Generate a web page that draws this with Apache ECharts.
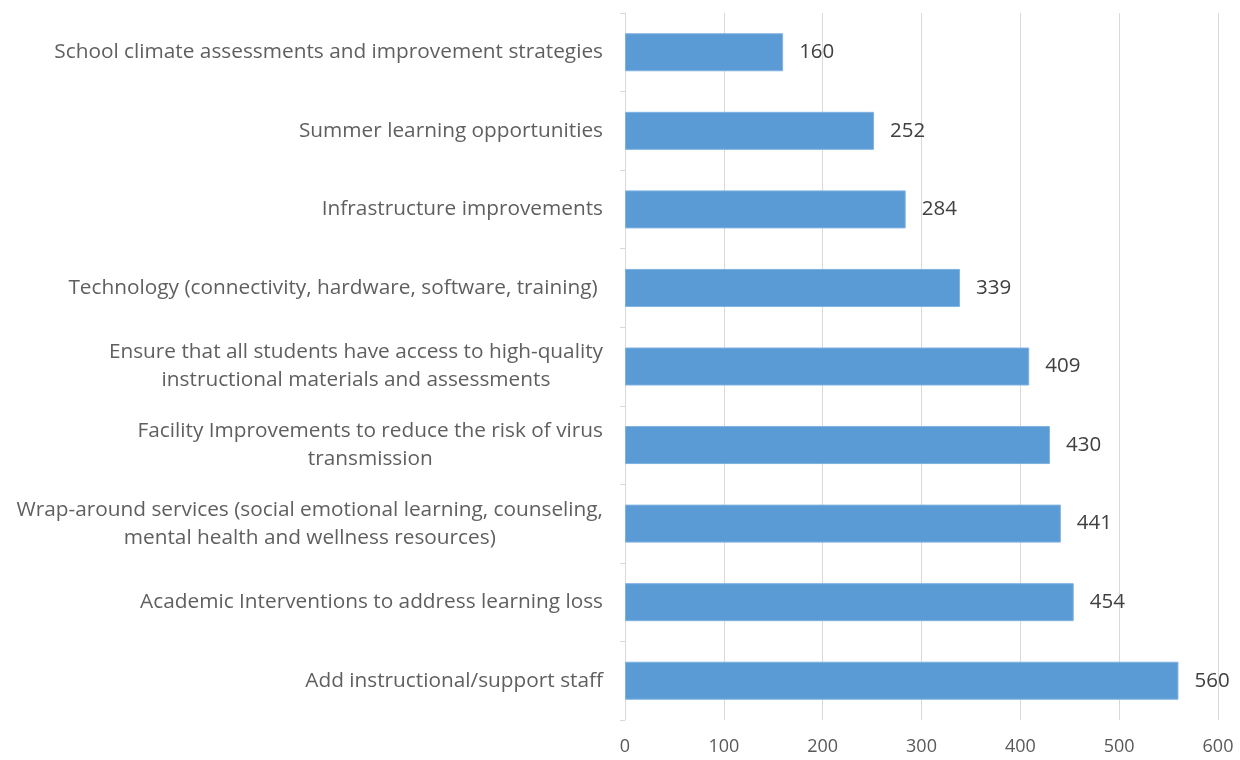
<!DOCTYPE html>
<html>
<head>
<meta charset="utf-8">
<script src="https://cdn.jsdelivr.net/npm/echarts@6/dist/echarts.min.js"></script>
<style>
  html, body { margin: 0; padding: 0; background: #fff; }
  #chart { width: 1240px; height: 760px; }
</style>
</head>
<body>
<div id="chart"></div>
<script>
// categories from top to bottom, as in the picture
var categories = [
    'School climate assessments and improvement strategies',
    'Summer learning opportunities',
    'Infrastructure improvements',
    'Technology (connectivity, hardware, software, training) ',
    'Ensure that all students have access to high-quality\ninstructional materials and assessments',
    'Facility Improvements to reduce the risk of virus\ntransmission',
    'Wrap-around services (social emotional learning, counseling,\nmental health and wellness resources)',
    'Academic Interventions to address learning loss',
    'Add instructional/support staff'
];
var counts = [160, 252, 284, 339, 409, 430, 441, 454, 560];
var xTicks = [0, 100, 200, 300, 400, 500, 600];

var fontName = '"Open Sans", "Noto Sans", sans-serif';

var chart = echarts.init(document.getElementById('chart'));
chart.setOption({
    backgroundColor: '#ffffff',
    animation: false,
    grid: {
        left: 625,
        right: 22,
        top: 13,
        bottom: 40,
        containLabel: false
    },
    xAxis: {
        type: 'value',
        min: xTicks[0],
        max: xTicks[xTicks.length - 1],
        interval: 100,
        axisLine: { show: false },
        axisTick: { show: false },
        axisLabel: {
            color: '#595959',
            fontSize: 18,
            fontFamily: fontName,
            margin: 18
        },
        splitLine: {
            show: true,
            lineStyle: { color: '#d9d9d9', width: 1 }
        }
    },
    yAxis: {
        type: 'category',
        data: categories,
        inverse: true,
        axisLine: {
            show: true,
            lineStyle: { color: '#d9d9d9', width: 1 }
        },
        axisTick: {
            show: true,
            length: 5,
            lineStyle: { color: '#d9d9d9' }
        },
        axisLabel: {
            margin: 22,
            color: '#595959',
            fontSize: 20.8,
            fontFamily: fontName,
            lineHeight: 28,
            formatter: function (v) {
                // centre each line of a wrapped label, as the picture does
                return v.split('\n').map(function (l) { return '{c|' + l + '}'; }).join('\n');
            },
            rich: {
                c: {
                    align: 'center',
                    color: '#5f5f5f',
                    fontSize: 20.8,
                    fontFamily: fontName,
                    lineHeight: 28
                }
            }
        }
    },
    series: [{
        type: 'bar',
        data: counts,
        barWidth: 38,
        itemStyle: {
            color: '#5b9bd5',
            borderColor: '#7fb2e0',
            borderWidth: 1
        },
        label: {
            show: true,
            position: 'right',
            distance: 16,
            color: '#404040',
            fontSize: 20.5,
            fontFamily: fontName
        }
    }]
});
</script>
</body>
</html>
